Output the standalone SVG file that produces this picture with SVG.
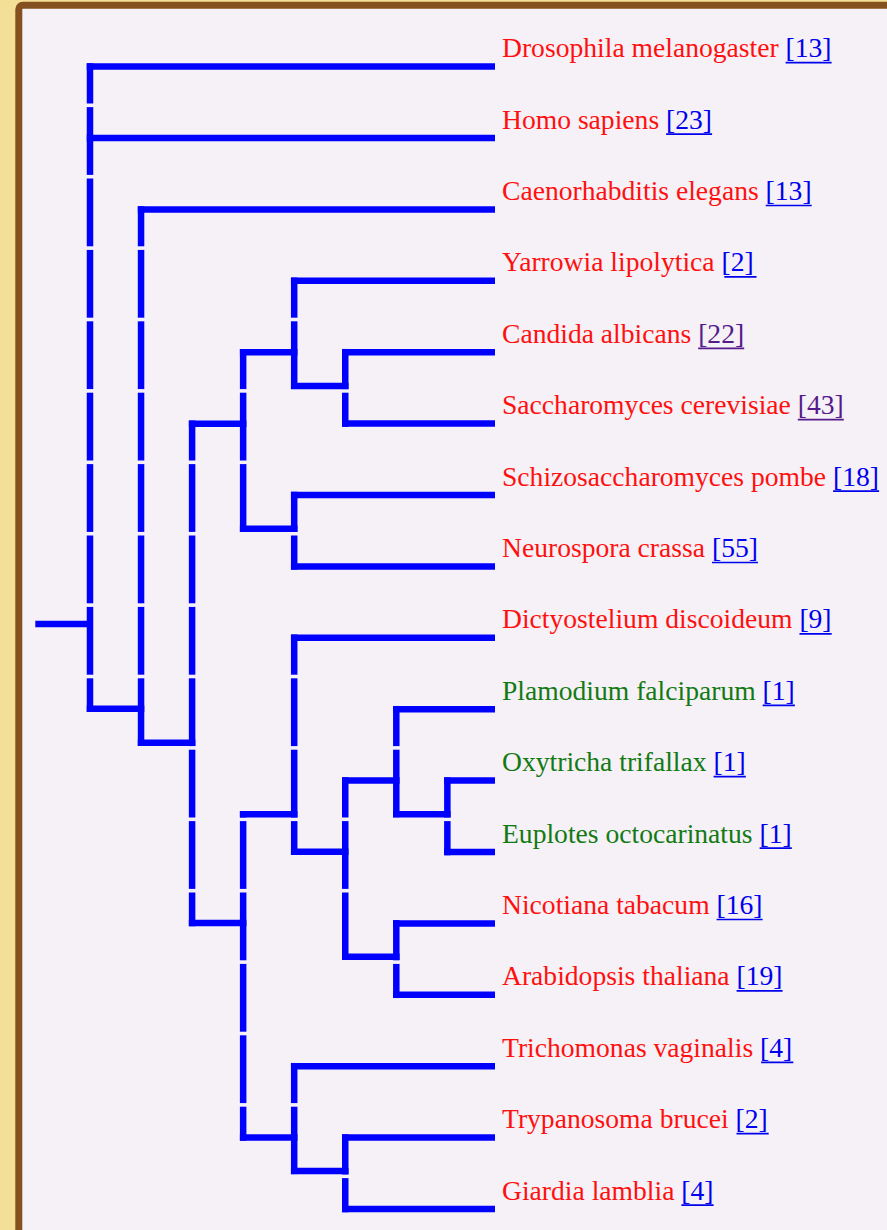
<svg xmlns="http://www.w3.org/2000/svg" width="887" height="1230" viewBox="0 0 887 1230">
<style>
.v{stroke:#0000ff;stroke-width:6.5;stroke-linecap:square;fill:none}
.h{stroke:#0000ff;stroke-width:6.5;stroke-linecap:butt;fill:none}
text{font-family:"Liberation Serif","Times New Roman",serif;font-size:27.6px}
.r{fill:#ff1010}
.g{fill:#137a13}
.l{fill:#0000ee}
.lv{fill:#551a8b}
.u{stroke:#0000ee;stroke-width:1.7}
.uv{stroke:#551a8b;stroke-width:1.7}
</style>
<defs>
<mask id="gaps" maskUnits="userSpaceOnUse" x="0" y="0" width="887" height="1230">
<rect x="0" y="0" width="887" height="1230" fill="#fff"/>
<g fill="#000">
<rect x="0" y="103.5" width="887" height="3.6"/>
<rect x="0" y="174.9" width="887" height="3.6"/>
<rect x="0" y="246.3" width="887" height="3.6"/>
<rect x="0" y="317.7" width="887" height="3.6"/>
<rect x="0" y="389.1" width="887" height="3.6"/>
<rect x="0" y="460.5" width="887" height="3.6"/>
<rect x="0" y="531.9" width="887" height="3.6"/>
<rect x="0" y="603.3" width="887" height="3.6"/>
<rect x="0" y="674.7" width="887" height="3.6"/>
<rect x="0" y="746.1" width="887" height="3.6"/>
<rect x="0" y="817.5" width="887" height="3.6"/>
<rect x="0" y="888.9" width="887" height="3.6"/>
<rect x="0" y="960.3" width="887" height="3.6"/>
<rect x="0" y="1031.7" width="887" height="3.6"/>
<rect x="0" y="1103.1" width="887" height="3.6"/>
<rect x="0" y="1174.5" width="887" height="3.6"/>
</g>
</mask>
</defs>
<rect x="0" y="0" width="887" height="1230" fill="#f3df95"/>
<rect x="18.8" y="5.2" width="900" height="1300" rx="4" fill="#f5f1f6" stroke="#84501f" stroke-width="7"/>

<g id="connectors">
<g id="verticals" mask="url(#gaps)">
<line class="v" x1="90" y1="66.6" x2="90" y2="708.8"/>
<line class="v" x1="141.05" y1="209.4" x2="141.05" y2="742.7"/>
<line class="v" x1="192.1" y1="423.7" x2="192.1" y2="923"/>
<line class="v" x1="243.15" y1="352.3" x2="243.15" y2="528.7"/>
<line class="v" x1="294.2" y1="280.8" x2="294.2" y2="386"/>
<line class="v" x1="345.25" y1="352.2" x2="345.25" y2="423.6"/>
<line class="v" x1="294.2" y1="495" x2="294.2" y2="566.4"/>
<line class="v" x1="243.15" y1="814.3" x2="243.15" y2="1137.4"/>
<line class="v" x1="294.2" y1="637.8" x2="294.2" y2="851.7"/>
<line class="v" x1="345.25" y1="780.4" x2="345.25" y2="956.7"/>
<line class="v" x1="396.3" y1="709.2" x2="396.3" y2="814.3"/>
<line class="v" x1="447.35" y1="780.6" x2="447.35" y2="852"/>
<line class="v" x1="396.3" y1="923.4" x2="396.3" y2="994.8"/>
<line class="v" x1="294.2" y1="1066.2" x2="294.2" y2="1171"/>
<line class="v" x1="345.25" y1="1137.6" x2="345.25" y2="1209"/>
</g>
<g id="horizontals">
<line class="h" x1="35.3" y1="624" x2="90" y2="624"/>
<line class="h" x1="86.75" y1="708.8" x2="144.3" y2="708.8"/>
<line class="h" x1="137.8" y1="742.7" x2="195.35" y2="742.7"/>
<line class="h" x1="188.85" y1="423.7" x2="246.4" y2="423.7"/>
<line class="h" x1="239.9" y1="352.3" x2="297.45" y2="352.3"/>
<line class="h" x1="290.95" y1="386" x2="348.5" y2="386"/>
<line class="h" x1="239.9" y1="528.7" x2="297.45" y2="528.7"/>
<line class="h" x1="188.85" y1="923" x2="246.4" y2="923"/>
<line class="h" x1="239.9" y1="814.3" x2="297.45" y2="814.3"/>
<line class="h" x1="290.95" y1="851.7" x2="348.5" y2="851.7"/>
<line class="h" x1="342" y1="780.4" x2="399.55" y2="780.4"/>
<line class="h" x1="393.05" y1="814.3" x2="450.6" y2="814.3"/>
<line class="h" x1="342" y1="956.7" x2="399.55" y2="956.7"/>
<line class="h" x1="239.9" y1="1137.4" x2="297.45" y2="1137.4"/>
<line class="h" x1="290.95" y1="1171" x2="348.5" y2="1171"/>
<line class="h" x1="86.75" y1="66.6" x2="495" y2="66.6"/>
<line class="h" x1="86.75" y1="138" x2="495" y2="138"/>
<line class="h" x1="137.8" y1="209.4" x2="495" y2="209.4"/>
<line class="h" x1="290.95" y1="280.8" x2="495" y2="280.8"/>
<line class="h" x1="342" y1="352.2" x2="495" y2="352.2"/>
<line class="h" x1="342" y1="423.6" x2="495" y2="423.6"/>
<line class="h" x1="290.95" y1="495" x2="495" y2="495"/>
<line class="h" x1="290.95" y1="566.4" x2="495" y2="566.4"/>
<line class="h" x1="290.95" y1="637.8" x2="495" y2="637.8"/>
<line class="h" x1="393.05" y1="709.2" x2="495" y2="709.2"/>
<line class="h" x1="444.1" y1="780.6" x2="495" y2="780.6"/>
<line class="h" x1="444.1" y1="852" x2="495" y2="852"/>
<line class="h" x1="393.05" y1="923.4" x2="495" y2="923.4"/>
<line class="h" x1="393.05" y1="994.8" x2="495" y2="994.8"/>
<line class="h" x1="290.95" y1="1066.2" x2="495" y2="1066.2"/>
<line class="h" x1="342" y1="1137.6" x2="495" y2="1137.6"/>
<line class="h" x1="342" y1="1209" x2="495" y2="1209"/>
</g>
</g>

<g id="leaf-drosophila"><text x="502" y="57.1"><tspan class="r">Drosophila melanogaster </tspan><tspan class="l">[13]</tspan></text><line class="u" x1="785.6" y1="62.7" x2="831.6" y2="62.7"/></g>
<g id="leaf-homo"><text x="502" y="128.5"><tspan class="r">Homo sapiens </tspan><tspan class="l">[23]</tspan></text><line class="u" x1="666.1" y1="134.1" x2="712.1" y2="134.1"/></g>
<g id="leaf-caenorhabditis"><text x="502" y="199.9"><tspan class="r">Caenorhabditis elegans </tspan><tspan class="l">[13]</tspan></text><line class="u" x1="765.7" y1="205.5" x2="811.7" y2="205.5"/></g>
<g id="leaf-yarrowia"><text x="502" y="271.3"><tspan class="r">Yarrowia lipolytica </tspan><tspan class="l">[2]</tspan></text><line class="u" x1="724.3" y1="276.9" x2="756.5" y2="276.9"/></g>
<g id="leaf-candida"><text x="502" y="342.7"><tspan class="r">Candida albicans </tspan><tspan class="lv">[22]</tspan></text><line class="uv" x1="698.2" y1="348.3" x2="744.2" y2="348.3"/></g>
<g id="leaf-saccharomyces"><text x="502" y="414.1"><tspan class="r">Saccharomyces cerevisiae </tspan><tspan class="lv">[43]</tspan></text><line class="uv" x1="797.8" y1="419.7" x2="843.8" y2="419.7"/></g>
<g id="leaf-schizosaccharomyces"><text x="502" y="485.5"><tspan class="r">Schizosaccharomyces pombe </tspan><tspan class="l">[18]</tspan></text><line class="u" x1="833.1" y1="491.1" x2="879.1" y2="491.1"/></g>
<g id="leaf-neurospora"><text x="502" y="556.9"><tspan class="r">Neurospora crassa </tspan><tspan class="l">[55]</tspan></text><line class="u" x1="712" y1="562.5" x2="758" y2="562.5"/></g>
<g id="leaf-dictyostelium"><text x="502" y="628.3"><tspan class="r">Dictyostelium discoideum </tspan><tspan class="l">[9]</tspan></text><line class="u" x1="799.5" y1="633.9" x2="831.7" y2="633.9"/></g>
<g id="leaf-plamodium"><text x="502" y="699.7"><tspan class="g">Plamodium falciparum </tspan><tspan class="l">[1]</tspan></text><line class="u" x1="762.7" y1="705.3" x2="794.9" y2="705.3"/></g>
<g id="leaf-oxytricha"><text x="502" y="771.1"><tspan class="g">Oxytricha trifallax </tspan><tspan class="l">[1]</tspan></text><line class="u" x1="713.6" y1="776.7" x2="745.8" y2="776.7"/></g>
<g id="leaf-euplotes"><text x="502" y="842.5"><tspan class="g">Euplotes octocarinatus </tspan><tspan class="l">[1]</tspan></text><line class="u" x1="759.6" y1="848.1" x2="791.8" y2="848.1"/></g>
<g id="leaf-nicotiana"><text x="502" y="913.9"><tspan class="r">Nicotiana tabacum </tspan><tspan class="l">[16]</tspan></text><line class="u" x1="716.6" y1="919.5" x2="762.6" y2="919.5"/></g>
<g id="leaf-arabidopsis"><text x="502" y="985.3"><tspan class="r">Arabidopsis thaliana </tspan><tspan class="l">[19]</tspan></text><line class="u" x1="736.6" y1="990.9" x2="782.6" y2="990.9"/></g>
<g id="leaf-trichomonas"><text x="502" y="1056.7"><tspan class="r">Trichomonas vaginalis </tspan><tspan class="l">[4]</tspan></text><line class="u" x1="761.1" y1="1062.3" x2="793.3" y2="1062.3"/></g>
<g id="leaf-trypanosoma"><text x="502" y="1128.1"><tspan class="r">Trypanosoma brucei </tspan><tspan class="l">[2]</tspan></text><line class="u" x1="736.5" y1="1133.7" x2="768.7" y2="1133.7"/></g>
<g id="leaf-giardia"><text x="502" y="1199.5"><tspan class="r">Giardia lamblia </tspan><tspan class="l">[4]</tspan></text><line class="u" x1="681.4" y1="1205.1" x2="713.6" y2="1205.1"/></g>
</svg>
